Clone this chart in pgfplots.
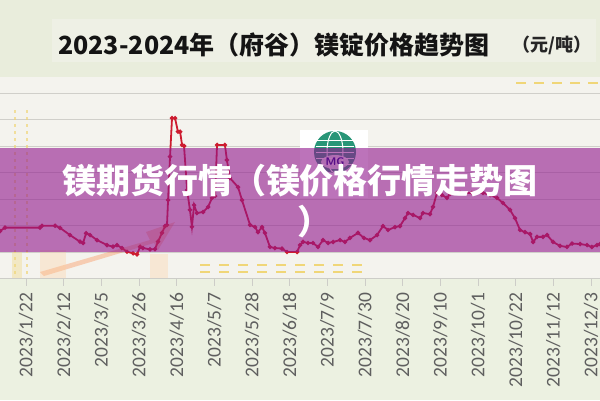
\documentclass[border=0pt]{standalone}
\usepackage{fontspec}
\usepackage{pgfplots}
\pgfplotsset{compat=1.18}
\newfontfamily\carlito{Carlito}
\newfontfamily\cjk{Noto Sans CJK SC}

\definecolor{topbg}{RGB}{233,237,220}
\definecolor{titlebg}{RGB}{238,240,229}
\definecolor{plotbg}{RGB}{244,243,238}
\definecolor{botbg}{RGB}{236,241,225}
\definecolor{gridgray}{RGB}{208,207,202}
\definecolor{axisgray}{RGB}{205,205,200}
\definecolor{labelgray}{RGB}{95,95,95}
\definecolor{linered}{RGB}{205,28,48}
\definecolor{banner}{RGB}{144,22,141}
\definecolor{deco}{RGB}{240,214,120}
\definecolor{teal}{RGB}{40,150,120}

\begin{document}
\begin{tikzpicture}[x=1pt,y=1pt]
\useasboundingbox (0,-121.5) rectangle (600,278.5);
\clip (0,-121.5) rectangle (600,278.5);
% backgrounds (page coordinates, y measured from the bottom of the picture)
\begin{scope}[yshift=-121.5pt]
\fill[topbg] (0,323) rectangle (600,400);
\fill[botbg] (0,0) rectangle (600,121.5);
\fill[titlebg] (52,338) rectangle (596,381);
\node[font=\cjk\bfseries\fontsize{25}{30}\selectfont, text=black!92] at (274,355) {2023-2024年（府谷）镁锭价格趋势图};
\node[font=\cjk\bfseries\fontsize{18}{22}\selectfont, text=black!85] at (552,355) {（元/吨）};
\end{scope}

\begin{axis}[
  width=600pt, height=201.5pt, scale only axis,
  xmin=7.5, xmax=342, ymin=19000, ymax=26604,
  scaled y ticks=false,
  axis background/.style={fill=plotbg},
  axis x line*=bottom, axis y line*=left,
  x axis line style={draw=axisgray, line width=1pt, -},
  y axis line style={draw=none},
  xtick={22,43,64,85,106,127,148,169,190,211,232,253,274,295,316,337},
  xticklabels={2023/1/22,2023/2/12,2023/3/5,2023/3/26,2023/4/16,2023/5/7,2023/5/28,2023/6/18,2023/7/9,2023/7/30,2023/8/20,2023/9/10,2023/10/1,2023/10/22,2023/11/12,2023/12/3},
  xticklabel style={rotate=90, anchor=east, font=\carlito\fontsize{19.5}{20}\selectfont, text=labelgray},
  xticklabel shift=4pt,
  xtick align=outside,
  major x tick style={draw=axisgray, line width=1pt},
  major tick length=7pt,
  ytick={20000,21000,22000,23000,24000,25000,26000},
  yticklabels={},
  major y tick style={draw=none},
  ymajorgrids, grid style={draw=gridgray, line width=1pt},
]
\addplot[linered, line width=1.8pt, mark=*, mark size=1.2pt, mark options={fill=linered, draw=linered}] table {
7.5 20790
10.3 20920
29.8 20920
30.9 20990
38.2 20990
41.0 20910
46.5 20640
52.1 20390
53.8 20340
55.5 20710
57.7 20640
61.6 20450
67.2 20260
70.5 20200
72.7 20260
75.5 20150
78.3 20010
81.7 19950
83.9 19910
85.6 20200
87.2 20150
91.1 20100
93.9 20110
95.6 20390
97.8 20720
99.5 20980
100.6 21020
101.2 21960
102.3 23600
103.4 25050
105.1 25050
106.7 24540
107.9 24540
109.0 24040
110.1 24000
111.8 22340
113.4 21590
114.5 20950
115.7 21770
117.3 21470
120.7 21510
123.5 21700
125.7 22040
127.4 22110
128.5 24040
132.9 24040
134.0 23470
135.7 22790
140.2 22450
142.4 21960
146.9 21020
149.7 20940
151.3 20750
153.6 20940
155.2 20720
158.0 20190
160.8 20150
164.7 20130
167.5 20000
173.1 20000
174.8 20260
176.4 20380
179.2 20340
182.0 20340
184.8 20190
187.6 20450
190.4 20340
193.2 20380
197.1 20450
199.8 20380
202.6 20530
207.1 20720
210.4 20530
213.8 20450
217.7 20640
221.0 20980
223.8 20830
227.7 20940
230.5 20980
233.3 21280
235.0 21470
237.8 21400
241.7 21280
243.3 21470
247.2 21430
248.9 21700
251.1 22230
253.9 22150
256.7 22040
258.4 22190
264.0 22230
270.6 22230
276.8 22230
280.7 22150
284.6 22040
287.9 21850
291.8 21590
294.6 21280
297.4 20830
300.2 20750
303.0 20680
304.7 20380
306.9 20570
310.2 20570
312.5 20640
315.8 20380
319.7 20230
323.6 20190
326.4 20320
330.9 20300
334.8 20260
337.5 20190
340.3 20260
342.0 20300
};
\end{axis}

\begin{scope}[yshift=-121.5pt]
% watermark decorations
\draw[deco, opacity=0.7, line width=2.2pt, dash pattern=on 3pt off 4pt] (15,290) -- (15,126);
\draw[deco, opacity=0.7, line width=2.2pt, dash pattern=on 3pt off 4pt] (27,290) -- (27,126);
\fill[orange!70!red, opacity=0.25] (40,128) -- (150,160) -- (146,168) -- (175,178) -- (158,150) -- (154,157) -- (44,124) -- cycle;
\fill[deco, opacity=0.35] (12,122) rectangle (22,148);
\fill[orange!40, opacity=0.3] (40,122) rectangle (66,150);
\fill[orange!40, opacity=0.3] (150,122) rectangle (168,146);
\draw[deco, line width=1.5pt, dash pattern=on 10pt off 9pt] (200,135) -- (362,135);
\draw[deco, line width=1.5pt, dash pattern=on 10pt off 9pt] (200,128) -- (362,128);
\draw[deco, line width=2pt, dash pattern=on 10pt off 8pt] (516,317) -- (600,317);

% logo
\fill[white] (300,202) rectangle (368,270);
\fill[teal] (335,248) circle (21);
\foreach \dy in {-12,-6,0,6,12} \draw[white, line width=1pt] (316,248+\dy) -- (354,248+\dy);
\draw[white, line width=1pt] (335,248) ellipse (8 and 21);
\fill[white, opacity=0.85] (335,238) ellipse (14 and 7);
\node[font=\sffamily\bfseries\fontsize{11}{12}\selectfont, text=blue!50!black] at (335,238) {MG};

% banner
\fill[banner, opacity=0.6] (0,148) rectangle (600,252);
\node[font=\cjk\bfseries\fontsize{34}{40}\selectfont, text=white] at (300,219) {镁期货行情（镁价格行情走势图};
\node[font=\cjk\bfseries\fontsize{34}{40}\selectfont, text=white] at (314,178) {）};
\end{scope}
\end{tikzpicture}
\end{document}
